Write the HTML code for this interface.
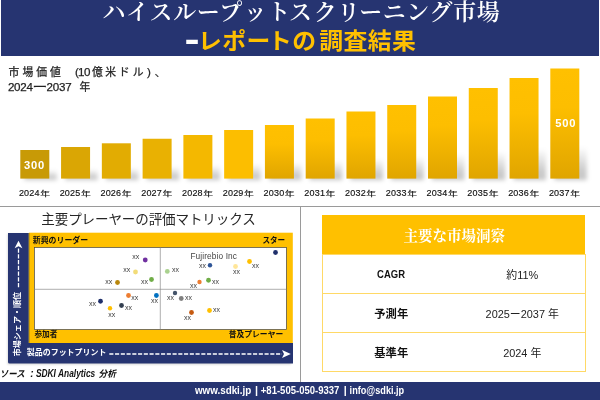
<!DOCTYPE html>
<html lang="ja"><head><meta charset="utf-8"><title>ハイスループットスクリーニング市場 -レポートの調査結果</title>
<style>
html,body{margin:0;padding:0;}
body{width:600px;height:400px;position:relative;overflow:hidden;background:#fff;font-family:"Liberation Sans","Noto Sans CJK JP",sans-serif;color:#222;}
.abs{position:absolute;}
header{position:absolute;left:1px;top:0;width:597.5px;height:55.5px;background:#263471;}
h1{margin:0;position:absolute;left:0;width:600px;white-space:nowrap;font-weight:normal;}
#t1{top:-4px;left:102.5px;font-family:"Liberation Serif","Noto Serif CJK SC",serif;font-size:23px;letter-spacing:0.62px;color:#fff;line-height:34px;font-weight:600;}
#t2{top:24.5px;left:198.2px;transform:scaleX(1.06);transform-origin:0 0;font-family:"Liberation Sans","Noto Sans CJK JP",sans-serif;font-size:22.5px;letter-spacing:0.38px;color:#ffc000;font-weight:bold;line-height:34px;}
#t1 .sr{position:relative;left:2.6px;}
#t2 .sh{position:relative;left:-2.6px;}
#t2 .hy{color:#fff;position:absolute;left:-13px;top:-2px;width:15px;text-align:center;transform:scale(1.9,1.6);letter-spacing:0;}
#sub{position:absolute;left:8.5px;top:62px;font-size:11px;line-height:15.3px;color:#262626;white-space:nowrap;}
#sub .j{letter-spacing:2.7px;}
svg text{font-family:"Liberation Sans","Noto Sans CJK JP",sans-serif;}
.yr{font-size:9px;fill:#111;letter-spacing:0.2px;stroke:#111;stroke-width:0.15px;}
.nen{font-size:7.2px;fill:#111;stroke:#111;stroke-width:0.15px;}
.val{font-size:11.2px;font-weight:bold;fill:#fff;letter-spacing:0.8px;}
.sj{font-size:10.8px;fill:#222;stroke:#222;stroke-width:0.25px;}
.sl{font-size:11.6px;fill:#222;stroke:#222;stroke-width:0.25px;}
.sc{font-size:9.2px;font-weight:bold;fill:#111;}
.se{font-size:10.1px;font-weight:bold;font-style:italic;fill:#111;}
.ft{font-size:10.8px;font-weight:bold;fill:#fff;}
.xx{font-size:7px;fill:#404040;}
.ql{font-size:7.9px;font-weight:bold;fill:#111;}
.ax{font-size:8px;font-weight:bold;fill:#fff;}
#hline{position:absolute;left:0;top:206px;width:600px;height:1px;background:#9a9a9a;}
#vline{position:absolute;left:300px;top:206px;width:1px;height:176px;background:#9a9a9a;}
#mtitle{position:absolute;left:41.3px;top:209.7px;font-size:13.5px;line-height:20px;color:#262626;white-space:nowrap;letter-spacing:-0.08px;}
#src{position:absolute;left:2px;top:364px;font-size:9.3px;line-height:16px;font-weight:bold;font-style:italic;color:#111;white-space:nowrap;}
table{position:absolute;left:321.5px;top:214.5px;width:263px;border-collapse:collapse;table-layout:fixed;}
th{background:#ffc000;color:#fff;height:39.5px;padding:0;font-family:"Liberation Serif","Noto Serif CJK SC",serif;font-weight:bold;font-size:14.5px;text-align:center;padding-left:1.5px;}
td{height:38px;padding:0;text-align:center;font-size:10.9px;color:#222;border-top:1px solid #ffd966;border-bottom:1px solid #ffd966;}
td.k{font-weight:bold;color:#111;font-size:11.3px;border-left:1px solid #ffd966;}
td.k span{display:inline-block;font-size:10.9px;transform:scaleX(0.87);}
td.v{border-right:1px solid #ffd966;}
footer{position:absolute;left:0;top:382px;width:600px;height:18px;background:#263471;color:#fff;font-weight:bold;font-size:9.9px;line-height:17px;text-align:center;white-space:nowrap;}
</style></head>
<body>
<header></header>
<h1 id="t1">ハイスループ<span class="sr">ット</span><span class="sr" style="left:0.8px">ス</span><span class="sr" style="left:1.8px">ク</span><span class="sr" style="left:1.4px">リ</span>ーニング市場</h1>
<h1 id="t2"><span class="hy">-</span>レポー<span class="sh">トの</span>調査結果</h1>


<svg class="abs" style="left:0;top:0" width="600" height="400" viewBox="0 0 600 400">
<defs>
<linearGradient id="g6" x1="0" y1="0" x2="0" y2="1"><stop offset="0" stop-color="#ffc000"/><stop offset="0.35" stop-color="#fdbe00"/><stop offset="1" stop-color="#e0a500"/></linearGradient><linearGradient id="g7" x1="0" y1="0" x2="0" y2="1"><stop offset="0" stop-color="#ffc000"/><stop offset="0.35" stop-color="#fdbe00"/><stop offset="1" stop-color="#e0a500"/></linearGradient><linearGradient id="g8" x1="0" y1="0" x2="0" y2="1"><stop offset="0" stop-color="#ffc000"/><stop offset="0.35" stop-color="#fdbe00"/><stop offset="1" stop-color="#e0a500"/></linearGradient><linearGradient id="g9" x1="0" y1="0" x2="0" y2="1"><stop offset="0" stop-color="#ffc000"/><stop offset="0.35" stop-color="#fdbe00"/><stop offset="1" stop-color="#e0a500"/></linearGradient><linearGradient id="g10" x1="0" y1="0" x2="0" y2="1"><stop offset="0" stop-color="#ffc000"/><stop offset="0.35" stop-color="#fdbe00"/><stop offset="1" stop-color="#e0a500"/></linearGradient><linearGradient id="g11" x1="0" y1="0" x2="0" y2="1"><stop offset="0" stop-color="#ffc000"/><stop offset="0.35" stop-color="#fdbe00"/><stop offset="1" stop-color="#e0a500"/></linearGradient><linearGradient id="g12" x1="0" y1="0" x2="0" y2="1"><stop offset="0" stop-color="#ffc000"/><stop offset="0.35" stop-color="#fdbe00"/><stop offset="1" stop-color="#e0a500"/></linearGradient><linearGradient id="g13" x1="0" y1="0" x2="0" y2="1"><stop offset="0" stop-color="#ffc000"/><stop offset="0.35" stop-color="#fdbe00"/><stop offset="1" stop-color="#e0a500"/></linearGradient>
<linearGradient id="sg" x1="0" y1="0" x2="0" y2="1"><stop offset="0" stop-color="#000" stop-opacity="0"/><stop offset="0.7" stop-color="#000" stop-opacity="0.2"/><stop offset="1" stop-color="#000" stop-opacity="0.22"/></linearGradient>
<filter id="blur" x="-20%" y="-50%" width="140%" height="200%"><feGaussianBlur stdDeviation="2.2"/></filter>
<filter id="blur2" x="-20%" y="-20%" width="140%" height="140%"><feGaussianBlur stdDeviation="1.2"/></filter>
</defs>
<g filter="url(#blur)"><rect x="24.30" y="170.02" width="32.5" height="10.08" fill="url(#sg)"/><rect x="65.07" y="169.12" width="32.5" height="10.98" fill="url(#sg)"/><rect x="105.84" y="168.01" width="32.5" height="12.09" fill="url(#sg)"/><rect x="146.61" y="166.64" width="32.5" height="13.45" fill="url(#sg)"/><rect x="187.38" y="165.52" width="32.5" height="14.58" fill="url(#sg)"/><rect x="228.15" y="164.02" width="32.5" height="16.08" fill="url(#sg)"/><rect x="268.92" y="162.52" width="32.5" height="17.58" fill="url(#sg)"/><rect x="309.69" y="160.57" width="32.5" height="19.53" fill="url(#sg)"/><rect x="350.46" y="158.47" width="32.5" height="21.63" fill="url(#sg)"/><rect x="391.23" y="156.52" width="32.5" height="23.58" fill="url(#sg)"/><rect x="432.00" y="153.97" width="32.5" height="26.13" fill="url(#sg)"/><rect x="472.77" y="151.42" width="32.5" height="28.68" fill="url(#sg)"/><rect x="513.54" y="148.42" width="32.5" height="31.68" fill="url(#sg)"/><rect x="554.31" y="146.60" width="32.5" height="33.50" fill="url(#sg)"/></g>
<rect x="0" y="181" width="600" height="8" fill="#fff" opacity="0.0"/>
<rect x="20.30" y="150" width="29" height="28.60" fill="#c89a06"/><rect x="61.07" y="147" width="29" height="31.60" fill="#daa604"/><rect x="101.84" y="143.3" width="29" height="35.30" fill="#e2ac02"/><rect x="142.61" y="138.75" width="29" height="39.85" fill="#e9b102"/><rect x="183.38" y="135" width="29" height="43.60" fill="#f4b800"/><rect x="224.15" y="130" width="29" height="48.60" fill="#fcbe00"/><rect x="264.92" y="125" width="29" height="53.60" fill="url(#g6)"/><rect x="305.69" y="118.5" width="29" height="60.10" fill="url(#g7)"/><rect x="346.46" y="111.5" width="29" height="67.10" fill="url(#g8)"/><rect x="387.23" y="105" width="29" height="73.60" fill="url(#g9)"/><rect x="428.00" y="96.5" width="29" height="82.10" fill="url(#g10)"/><rect x="468.77" y="88" width="29" height="90.60" fill="url(#g11)"/><rect x="509.54" y="78" width="29" height="100.60" fill="url(#g12)"/><rect x="550.31" y="68.5" width="29" height="110.10" fill="url(#g13)"/>
<text x="18.90" y="195.6" class="yr">2024</text><text transform="translate(40.20 195.9) scale(1.36 1)" class="nen">年</text><text x="59.67" y="195.6" class="yr">2025</text><text transform="translate(80.97 195.9) scale(1.36 1)" class="nen">年</text><text x="100.44" y="195.6" class="yr">2026</text><text transform="translate(121.74 195.9) scale(1.36 1)" class="nen">年</text><text x="141.21" y="195.6" class="yr">2027</text><text transform="translate(162.51 195.9) scale(1.36 1)" class="nen">年</text><text x="181.98" y="195.6" class="yr">2028</text><text transform="translate(203.28 195.9) scale(1.36 1)" class="nen">年</text><text x="222.75" y="195.6" class="yr">2029</text><text transform="translate(244.05 195.9) scale(1.36 1)" class="nen">年</text><text x="263.52" y="195.6" class="yr">2030</text><text transform="translate(284.82 195.9) scale(1.36 1)" class="nen">年</text><text x="304.29" y="195.6" class="yr">2031</text><text transform="translate(325.59 195.9) scale(1.36 1)" class="nen">年</text><text x="345.06" y="195.6" class="yr">2032</text><text transform="translate(366.36 195.9) scale(1.36 1)" class="nen">年</text><text x="385.83" y="195.6" class="yr">2033</text><text transform="translate(407.13 195.9) scale(1.36 1)" class="nen">年</text><text x="426.60" y="195.6" class="yr">2034</text><text transform="translate(447.90 195.9) scale(1.36 1)" class="nen">年</text><text x="467.37" y="195.6" class="yr">2035</text><text transform="translate(488.67 195.9) scale(1.36 1)" class="nen">年</text><text x="508.14" y="195.6" class="yr">2036</text><text transform="translate(529.44 195.9) scale(1.36 1)" class="nen">年</text><text x="548.91" y="195.6" class="yr">2037</text><text transform="translate(570.21 195.9) scale(1.36 1)" class="nen">年</text>
<text x="24" y="168.8" class="val">300</text>
<text x="555.2" y="127" class="val">500</text>

<g class="sub">
<text y="76.3" x="8.6 22.4 36.3 50.1" class="sj">市場価値</text>
<text y="76.3" x="75.0 78.0 83.9" class="sl">(10</text>
<text y="76.3" x="91.9 105.3 118.8 132.8" class="sj">億米ドル</text>
<text y="76.3" x="147.0" class="sl">)</text>
<text y="76.3" x="154.8" class="sj">、</text>
<text y="90.7" x="7.9 14.1 20.3 26.5" class="sl">2024</text>
<text transform="translate(32.5 90.5) scale(1.37 1)" class="sj">ー</text>
<text y="90.7" x="46.6 52.8 59.0 65.2" class="sl">2037</text>
<text y="90.6" x="79.4" class="sj">年</text>
</g>
<!-- matrix -->
<g filter="url(#blur2)" opacity="0.16"><path d="M7.5 234 H26 V345 H291 V364.5 H7.5 Z" fill="#000"/></g>
<path d="M8 233 H28.7 V343 H293 V363.5 H9.5 Q8 363.5 8 362 Z" fill="#263471"/>
<rect x="28.9" y="232.7" width="263.9" height="110.3" fill="#ffc000"/>
<line x1="28.9" y1="233" x2="28.9" y2="343" stroke="#4a4520" stroke-width="0.7"/>
<rect x="34.4" y="247.5" width="252" height="82" fill="#fff" stroke="#444" stroke-width="0.7"/>
<line x1="34.4" y1="289.3" x2="286.4" y2="289.3" stroke="#8c8c8c" stroke-width="0.7"/>
<line x1="160.3" y1="247.5" x2="160.3" y2="329.5" stroke="#8c8c8c" stroke-width="0.7"/>
<text x="32.8" y="243.2" class="ql" textLength="55.4" lengthAdjust="spacingAndGlyphs">新興のリーダー</text>
<text x="262.4" y="242.8" class="ql" textLength="22.8" lengthAdjust="spacingAndGlyphs">スター</text>
<text x="34.4" y="337.3" class="ql" textLength="23.2" lengthAdjust="spacingAndGlyphs">参加者</text>
<text x="228.8" y="337.1" class="ql" textLength="54.4" lengthAdjust="spacingAndGlyphs">普及プレーヤー</text>
<text x="190.4" y="258.6" style="font-size:8.3px;fill:#444" textLength="46.6" lengthAdjust="spacing">Fujirebio Inc</text>
<circle cx="145.25" cy="260" r="2.4" fill="#7030a0"/><text x="135.75" y="258.6" text-anchor="middle" class="xx">xx</text><circle cx="135.5" cy="272" r="2.4" fill="#f2dc78"/><text x="126.75" y="271.6" text-anchor="middle" class="xx">xx</text><circle cx="117.5" cy="282.5" r="2.4" fill="#b8860b"/><text x="108.75" y="284.4" text-anchor="middle" class="xx">xx</text><circle cx="151.5" cy="279.5" r="2.4" fill="#70ad47"/><text x="144.5" y="284.4" text-anchor="middle" class="xx">xx</text><circle cx="167.3" cy="271.4" r="2.4" fill="#a9d18e"/><text x="175.5" y="272.4" text-anchor="middle" class="xx">xx</text><circle cx="128.5" cy="295.5" r="2.4" fill="#ed7d31"/><text x="134.75" y="299.6" text-anchor="middle" class="xx">xx</text><circle cx="156.4" cy="295.5" r="2.4" fill="#0070c0"/><text x="154.4" y="303.4" text-anchor="middle" class="xx">xx</text><circle cx="100.5" cy="301.25" r="2.4" fill="#1f2f6b"/><text x="92.5" y="306.4" text-anchor="middle" class="xx">xx</text><circle cx="121.5" cy="305.5" r="2.4" fill="#333f50"/><text x="128.5" y="310.1" text-anchor="middle" class="xx">xx</text><circle cx="110" cy="308.25" r="2.2" fill="#ffc000"/><text x="111.75" y="316.9" text-anchor="middle" class="xx">xx</text><circle cx="275.5" cy="252.5" r="2.4" fill="#1f2f6b"/><circle cx="249.5" cy="261.5" r="2.4" fill="#ffc000"/><text x="255.5" y="268.1" text-anchor="middle" class="xx">xx</text><circle cx="235.5" cy="266.5" r="2.4" fill="#ffe699"/><text x="236.5" y="274.4" text-anchor="middle" class="xx">xx</text><circle cx="210" cy="265.25" r="2.2" fill="#2f5597"/><text x="202.5" y="268.1" text-anchor="middle" class="xx">xx</text><circle cx="208.5" cy="280.25" r="2.4" fill="#70ad47"/><text x="215.5" y="284.4" text-anchor="middle" class="xx">xx</text><circle cx="199.5" cy="282" r="2.2" fill="#ed7d31"/><text x="193.5" y="287.6" text-anchor="middle" class="xx">xx</text><circle cx="175" cy="293" r="2.2" fill="#44546a"/><text x="170.5" y="300.4" text-anchor="middle" class="xx">xx</text><circle cx="181.25" cy="298.5" r="2.4" fill="#7f7f7f"/><text x="188.5" y="300.4" text-anchor="middle" class="xx">xx</text><circle cx="209.5" cy="310.5" r="2.4" fill="#ffc000"/><text x="216.5" y="312.4" text-anchor="middle" class="xx">xx</text><circle cx="191.5" cy="312.5" r="2.4" fill="#c55a11"/><text x="187.5" y="320.4" text-anchor="middle" class="xx">xx</text>
<!-- arrows -->
<line x1="18.5" y1="248.6" x2="18.5" y2="288.6" stroke="#fff" stroke-width="1.3" stroke-dasharray="4.1 1.65"/>
<path d="M14.6 248.2 L18.5 240.8 L22.4 248.2 L18.5 246.2 Z" fill="#fff"/>
<line x1="109.3" y1="354" x2="282" y2="354" stroke="#fff" stroke-width="1.3" stroke-dasharray="4.1 1.65"/>
<path d="M282 350.1 L290.8 354 L282 357.9 L284 354 Z" fill="#fff"/>
<text x="26.8" y="355.4" class="ax" textLength="79.6" lengthAdjust="spacingAndGlyphs">製品のフットプリント</text>
<text transform="translate(20.2 356.3) rotate(-90)" class="ax" textLength="64.4" lengthAdjust="spacingAndGlyphs">市場シェア・順位</text>
<g class="src" transform="translate(0 376.9)">
<text transform="skewX(-12)" x="-0.3" y="0" class="sc" textLength="25.2" lengthAdjust="spacingAndGlyphs">ソース</text>
<text x="30.3" y="0" class="se">:</text>
<text x="35.9" y="0" class="se" textLength="59.4" lengthAdjust="spacingAndGlyphs">SDKI Analytics</text>
<text transform="skewX(-12)" x="98.5" y="0" class="sc" textLength="17.6" lengthAdjust="spacingAndGlyphs">分析</text>
</g>
</svg>

<div id="hline"></div><div id="vline"></div>
<div id="mtitle">主要プレーヤーの評価マトリックス</div>


<table>
<colgroup><col style="width:138px"><col style="width:125px"></colgroup>
<tr><th colspan="2">主要な市場洞察</th></tr>
<tr><td class="k"><span>CAGR</span></td><td class="v">約11%</td></tr>
<tr><td class="k">予測年</td><td class="v">2025ー2037 年</td></tr>
<tr><td class="k">基準年</td><td class="v">2024 年</td></tr>
</table>

<footer><svg width="600" height="18" viewBox="0 382 600 18" style="display:block">
<text x="194.9" y="394" class="ft" textLength="56.4" lengthAdjust="spacingAndGlyphs">www.sdki.jp</text>
<text x="254.9" y="394" class="ft">|</text>
<text x="260.8" y="394" class="ft" textLength="78.6" lengthAdjust="spacingAndGlyphs">+81-505-050-9337</text>
<text x="343.7" y="394" class="ft">|</text>
<text x="349.6" y="394" class="ft" textLength="54.6" lengthAdjust="spacingAndGlyphs">info@sdki.jp</text>
</svg></footer>
</body></html>
